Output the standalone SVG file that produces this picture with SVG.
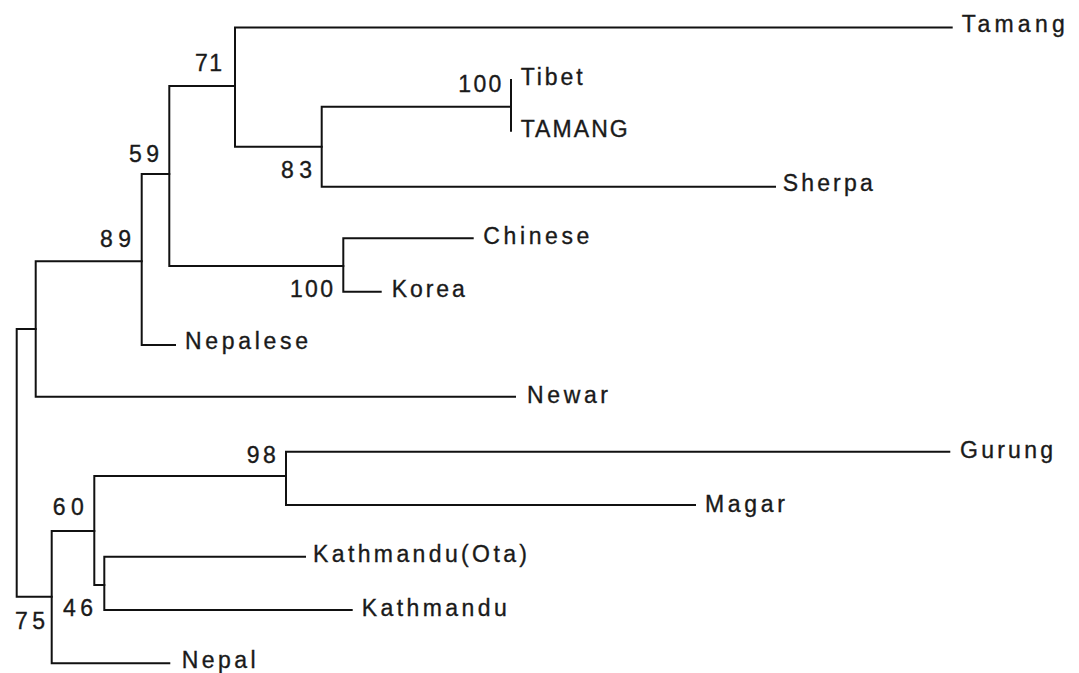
<svg xmlns="http://www.w3.org/2000/svg" width="1079" height="673" viewBox="0 0 1079 673">
<style>
.br{fill:none;stroke:#111;stroke-width:2;stroke-linecap:square}
.tx{font-family:"Liberation Sans",Arial,sans-serif;font-size:23px;fill:#1a1a1a;stroke:#1a1a1a;stroke-width:0.35}
</style>
<rect width="1079" height="673" fill="#fff"/>
<g id="connectors" class="br">
<path d="M16.7,329 V596.7 M16.7,329 H35.7 M16.7,596.7 H51.7"/>
<path d="M35.7,261.3 V396.7 M35.7,261.3 H141.7 M35.7,396.7 H515"/>
<path d="M141.7,174 V345 M141.7,174 H169.3 M141.7,345 H175"/>
<path d="M169.3,86 V266 M169.3,86 H235 M169.3,266 H343.3"/>
<path d="M235,27.5 V146.7 M235,27.5 H951.7 M235,146.7 H321.7"/>
<path d="M321.7,106.7 V186.7 M321.7,106.7 H511 M321.7,186.7 H775"/>
<path d="M511,80 V130.7"/>
<path d="M343.3,238.3 V291.7 M343.3,238.3 H472.7 M343.3,291.7 H380.7"/>
<path d="M51.7,531 V663.3 M51.7,531 H94.3 M51.7,663.3 H169.3"/>
<path d="M94.3,476 V585 M94.3,476 H286 M94.3,585 H104.3"/>
<path d="M286,451.7 V505 M286,451.7 H949.3 M286,505 H695"/>
<path d="M104.3,556.7 V610 M104.3,556.7 H305 M104.3,610 H351.7"/>
</g>
<g id="tip-tamang"><text class="tx" x="961.7" y="32" textLength="103" lengthAdjust="spacing">Tamang</text></g>
<g id="tip-tibet"><text class="tx" x="520.7" y="85" textLength="62" lengthAdjust="spacing">Tibet</text></g>
<g id="tip-TAMANG"><text class="tx" x="520.7" y="137" textLength="107" lengthAdjust="spacing">TAMANG</text></g>
<g id="tip-sherpa"><text class="tx" x="782.7" y="190.7" textLength="90" lengthAdjust="spacing">Sherpa</text></g>
<g id="tip-chinese"><text class="tx" x="483.3" y="244" textLength="106" lengthAdjust="spacing">Chinese</text></g>
<g id="tip-korea"><text class="tx" x="391.7" y="297.3" textLength="73" lengthAdjust="spacing">Korea</text></g>
<g id="tip-nepalese"><text class="tx" x="185" y="349.3" textLength="123" lengthAdjust="spacing">Nepalese</text></g>
<g id="tip-newar"><text class="tx" x="527" y="402.7" textLength="81" lengthAdjust="spacing">Newar</text></g>
<g id="tip-gurung"><text class="tx" x="960" y="458" textLength="93" lengthAdjust="spacing">Gurung</text></g>
<g id="tip-magar"><text class="tx" x="705" y="511.7" textLength="80" lengthAdjust="spacing">Magar</text></g>
<g id="tip-kathmandu-ota"><text class="tx" x="313" y="561.7" textLength="214" lengthAdjust="spacing">Kathmandu(Ota)</text></g>
<g id="tip-kathmandu"><text class="tx" x="361.7" y="616" textLength="145" lengthAdjust="spacing">Kathmandu</text></g>
<g id="tip-nepal"><text class="tx" x="181.7" y="668.3" textLength="74" lengthAdjust="spacing">Nepal</text></g>
<g id="node-71"><text class="tx" x="195" y="71" textLength="27" lengthAdjust="spacing">71</text></g>
<g id="node-83"><text class="tx" x="281" y="178" textLength="31" lengthAdjust="spacing">83</text></g>
<g id="node-59"><text class="tx" x="129" y="162" textLength="30" lengthAdjust="spacing">59</text></g>
<g id="node-89"><text class="tx" x="100" y="246.7" textLength="31" lengthAdjust="spacing">89</text></g>
<g id="node-100a"><text class="tx" x="458.3" y="91.7" textLength="43" lengthAdjust="spacing">100</text></g>
<g id="node-100b"><text class="tx" x="290" y="296.7" textLength="43" lengthAdjust="spacing">100</text></g>
<g id="node-98"><text class="tx" x="246.7" y="463.3" textLength="29" lengthAdjust="spacing">98</text></g>
<g id="node-60"><text class="tx" x="52.7" y="515" textLength="31" lengthAdjust="spacing">60</text></g>
<g id="node-46"><text class="tx" x="63" y="615.7" textLength="30" lengthAdjust="spacing">46</text></g>
<g id="node-75"><text class="tx" x="15" y="629.3" textLength="30" lengthAdjust="spacing">75</text></g>
</svg>
